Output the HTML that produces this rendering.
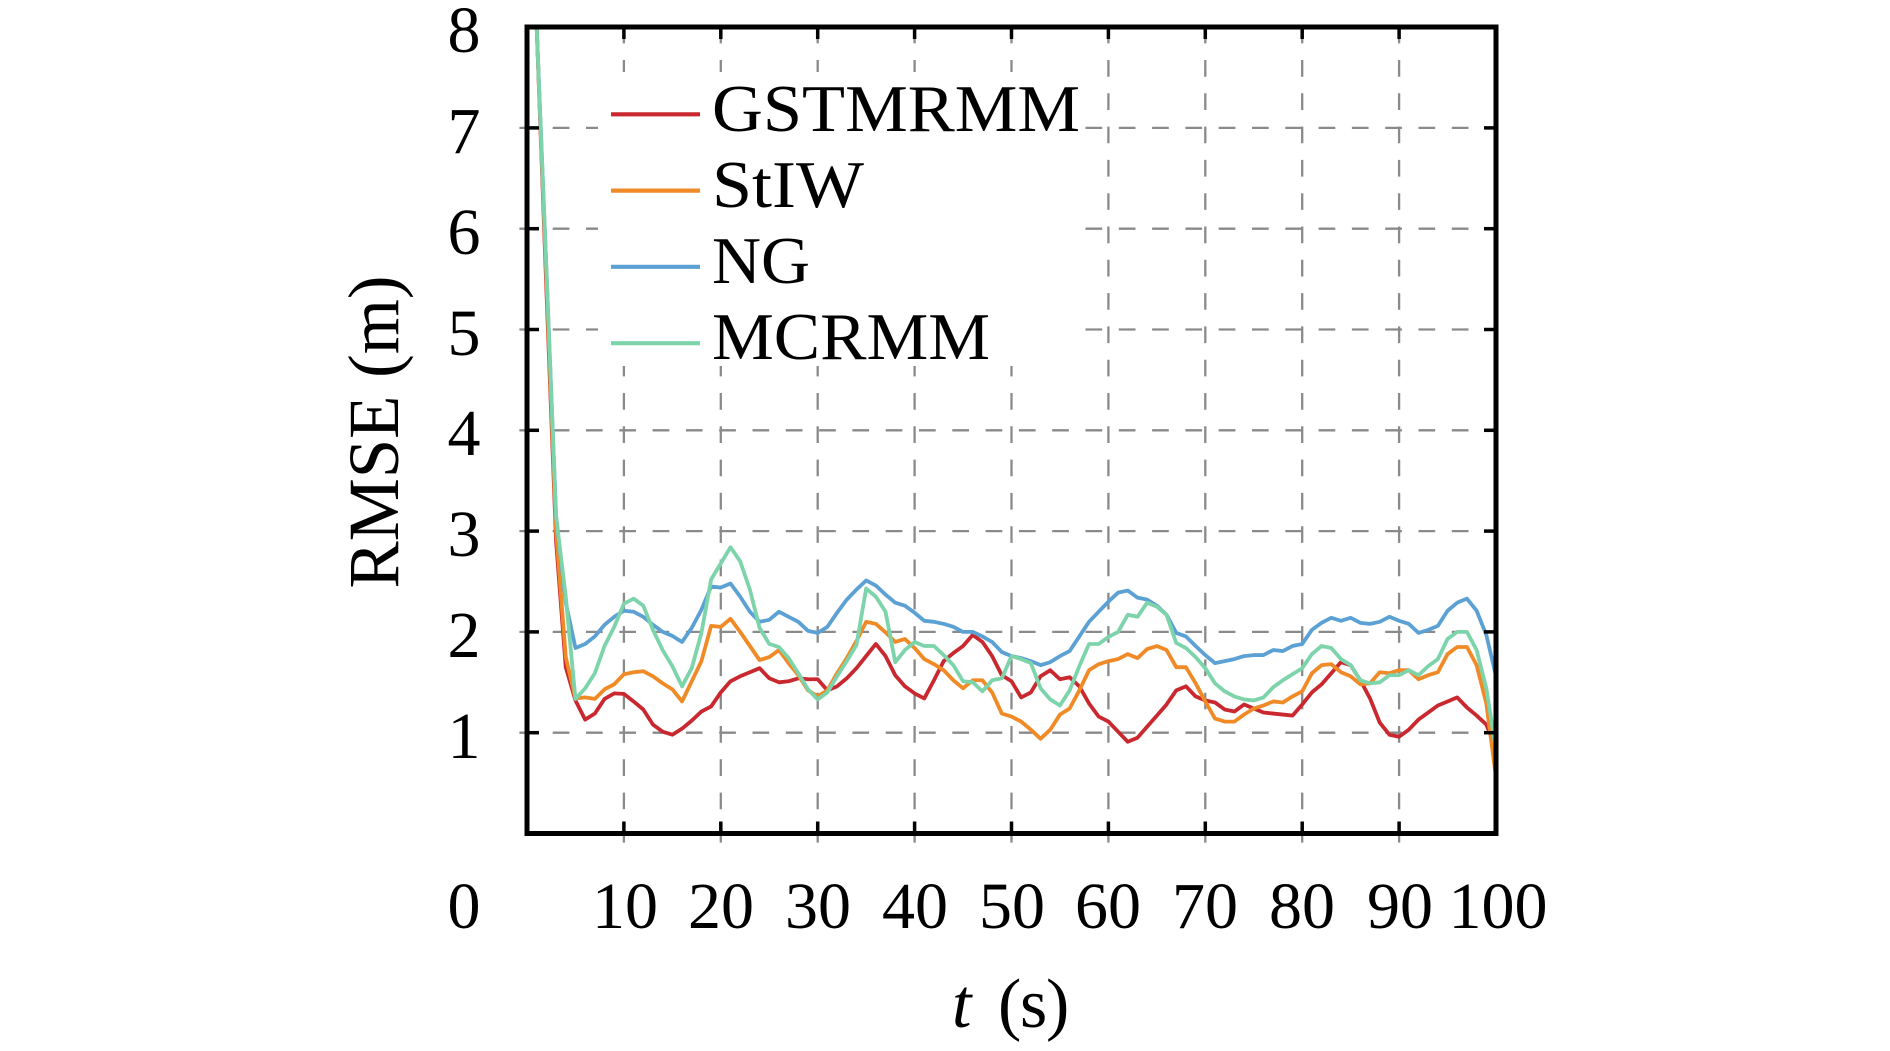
<!DOCTYPE html>
<html>
<head>
<meta charset="utf-8">
<style>
  html, body { margin: 0; padding: 0; background: #ffffff; }
  svg { display: block; }
  text { font-family: "Liberation Serif", "DejaVu Serif", serif; fill: #000; }
</style>
</head>
<body>
<svg width="1890" height="1051" viewBox="0 0 1890 1051" xmlns="http://www.w3.org/2000/svg">
  <rect x="0" y="0" width="1890" height="1051" fill="#ffffff"/>

  <!-- grid -->
  <g stroke="#8a8a8a" stroke-width="2.3" stroke-dasharray="16.7 16.6" fill="none">
    <line x1="519.4" y1="732.7" x2="1496" y2="732.7"/>
    <line x1="519.4" y1="631.9" x2="1496" y2="631.9"/>
    <line x1="519.4" y1="531.1" x2="1496" y2="531.1"/>
    <line x1="519.4" y1="430.3" x2="1496" y2="430.3"/>
    <line x1="519.4" y1="329.5" x2="1496" y2="329.5"/>
    <line x1="519.4" y1="228.7" x2="1496" y2="228.7"/>
    <line x1="519.4" y1="127.9" x2="1496" y2="127.9"/>
    <line x1="623.9" y1="842.6" x2="623.9" y2="27"/>
    <line x1="720.8" y1="842.6" x2="720.8" y2="27"/>
    <line x1="817.7" y1="842.6" x2="817.7" y2="27"/>
    <line x1="914.6" y1="842.6" x2="914.6" y2="27"/>
    <line x1="1011.5" y1="842.6" x2="1011.5" y2="27"/>
    <line x1="1108.4" y1="842.6" x2="1108.4" y2="27"/>
    <line x1="1205.3" y1="842.6" x2="1205.3" y2="27"/>
    <line x1="1302.2" y1="842.6" x2="1302.2" y2="27"/>
    <line x1="1399.1" y1="842.6" x2="1399.1" y2="27"/>
  </g>

  <!-- legend background -->
  <rect x="598" y="72" width="478" height="294" fill="#ffffff"/>

  <defs>
    <clipPath id="plotclip">
      <rect x="0" y="0" width="100" height="8"/>
    </clipPath>
  </defs>

  <!-- data -->
  <g transform="translate(527,833.5) scale(9.69,-100.8)" clip-path="url(#plotclip)" fill="none" stroke-linejoin="round" stroke-linecap="round">
    <polyline vector-effect="non-scaling-stroke" stroke="#c9282f" stroke-width="3.8" points="1,8.0 2,5.4 3,2.9 4,1.65 5,1.32 6,1.13 7,1.19 8,1.335 9,1.39 10,1.385 11,1.31 12,1.23 13,1.08 14,1.01 15,0.98 16,1.04 17,1.12 18,1.21 19,1.26 20,1.40 21,1.51 22,1.56 23,1.60 24,1.64 25,1.54 26,1.50 27,1.51 28,1.54 29,1.53 30,1.53 31,1.42 32,1.46 33,1.54 34,1.64 35,1.76 36,1.88 37,1.76 38,1.57 39,1.46 40,1.39 41,1.34 42,1.52 43,1.71 44,1.79 45,1.86 46,1.97 47,1.90 48,1.76 49,1.57 50,1.51 51,1.35 52,1.40 53,1.56 54,1.62 55,1.53 56,1.55 57,1.46 58,1.29 59,1.16 60,1.11 61,1.01 62,0.91 63,0.95 64,1.06 65,1.17 66,1.28 67,1.42 68,1.46 69,1.36 70,1.32 71,1.30 72,1.23 73,1.21 74,1.28 75,1.24 76,1.20 77,1.19 78,1.18 79,1.17 80,1.28 81,1.40 82,1.48 83,1.59 84,1.70 85,1.67 86,1.52 87,1.34 88,1.10 89,0.98 90,0.96 91,1.03 92,1.13 93,1.20 94,1.27 95,1.31 96,1.35 97,1.25 98,1.17 99,1.08 100,0.85"/>
    <polyline vector-effect="non-scaling-stroke" stroke="#f08a26" stroke-width="3.8" points="1,8.0 2,5.5 3,3.0 4,1.75 5,1.34 6,1.35 7,1.335 8,1.43 9,1.48 10,1.58 11,1.60 12,1.61 13,1.56 14,1.49 15,1.43 16,1.31 17,1.51 18,1.71 19,2.06 20,2.05 21,2.13 22,2.0 23,1.86 24,1.72 25,1.75 26,1.82 27,1.69 28,1.57 29,1.42 30,1.36 31,1.42 32,1.59 33,1.74 34,1.91 35,2.10 36,2.08 37,1.995 38,1.90 39,1.93 40,1.84 41,1.73 42,1.68 43,1.62 44,1.52 45,1.44 46,1.52 47,1.52 48,1.40 49,1.19 50,1.16 51,1.11 52,1.03 53,0.94 54,1.03 55,1.18 56,1.24 57,1.42 58,1.62 59,1.68 60,1.71 61,1.73 62,1.78 63,1.74 64,1.83 65,1.86 66,1.82 67,1.65 68,1.65 69,1.49 70,1.31 71,1.14 72,1.11 73,1.11 74,1.18 75,1.24 76,1.27 77,1.31 78,1.30 79,1.36 80,1.41 81,1.59 82,1.67 83,1.68 84,1.60 85,1.56 86,1.48 87,1.49 88,1.60 89,1.59 90,1.62 91,1.62 92,1.53 93,1.57 94,1.60 95,1.78 96,1.85 97,1.85 98,1.67 99,1.29 100,0.56"/>
    <polyline vector-effect="non-scaling-stroke" stroke="#5ba1d3" stroke-width="3.8" points="1,8.0 2,5.6 3,3.15 4,2.29 5,1.84 6,1.88 7,1.955 8,2.07 9,2.15 10,2.21 11,2.20 12,2.15 13,2.07 14,2.0 15,1.96 16,1.90 17,2.04 18,2.22 19,2.45 20,2.44 21,2.48 22,2.35 23,2.20 24,2.10 25,2.12 26,2.20 27,2.15 28,2.10 29,2.01 30,1.99 31,2.05 32,2.19 33,2.32 34,2.42 35,2.51 36,2.46 37,2.37 38,2.29 39,2.26 40,2.19 41,2.11 42,2.10 43,2.08 44,2.05 45,2.0 46,2.0 47,1.955 48,1.90 49,1.80 50,1.76 51,1.74 52,1.71 53,1.67 54,1.70 55,1.76 56,1.81 57,1.955 58,2.10 59,2.20 60,2.30 61,2.39 62,2.41 63,2.34 64,2.32 65,2.26 66,2.17 67,1.99 68,1.955 69,1.86 70,1.77 71,1.69 72,1.71 73,1.73 74,1.76 75,1.77 76,1.77 77,1.82 78,1.81 79,1.86 80,1.88 81,2.02 82,2.09 83,2.14 84,2.11 85,2.14 86,2.09 87,2.08 88,2.10 89,2.15 90,2.11 91,2.08 92,1.99 93,2.02 94,2.06 95,2.21 96,2.29 97,2.33 98,2.21 99,1.97 100,1.56"/>
    <polyline vector-effect="non-scaling-stroke" stroke="#7dd4ab" stroke-width="3.8" points="1,8.0 2,5.6 3,3.15 4,2.35 5,1.335 6,1.44 7,1.59 8,1.86 9,2.05 10,2.28 11,2.33 12,2.26 13,2.02 14,1.82 15,1.66 16,1.46 17,1.64 18,1.99 19,2.52 20,2.68 21,2.84 22,2.70 23,2.42 24,2.04 25,1.88 26,1.85 27,1.74 28,1.59 29,1.43 30,1.33 31,1.40 32,1.56 33,1.71 34,1.87 35,2.43 36,2.35 37,2.20 38,1.70 39,1.82 40,1.90 41,1.86 42,1.86 43,1.77 44,1.67 45,1.51 46,1.50 47,1.41 48,1.52 49,1.54 50,1.76 51,1.73 52,1.69 53,1.44 54,1.33 55,1.27 56,1.42 57,1.66 58,1.88 59,1.88 60,1.95 61,2.0 62,2.17 63,2.15 64,2.29 65,2.25 66,2.17 67,1.89 68,1.84 69,1.75 70,1.64 71,1.49 72,1.41 73,1.36 74,1.33 75,1.32 76,1.35 77,1.45 78,1.52 79,1.58 80,1.64 81,1.78 82,1.86 83,1.84 84,1.73 85,1.67 86,1.52 87,1.49 88,1.50 89,1.57 90,1.57 91,1.62 92,1.57 93,1.66 94,1.73 95,1.93 96,2.0 97,2.0 98,1.82 99,1.44 100,0.83"/>
  </g>

  <!-- ticks -->
  <g stroke="#000" stroke-width="3.5">
    <line x1="527" y1="732.7" x2="539" y2="732.7"/>
    <line x1="527" y1="631.9" x2="539" y2="631.9"/>
    <line x1="527" y1="531.1" x2="539" y2="531.1"/>
    <line x1="527" y1="430.3" x2="539" y2="430.3"/>
    <line x1="527" y1="329.5" x2="539" y2="329.5"/>
    <line x1="527" y1="228.7" x2="539" y2="228.7"/>
    <line x1="527" y1="127.9" x2="539" y2="127.9"/>
    <line x1="1484" y1="732.7" x2="1496" y2="732.7"/>
    <line x1="1484" y1="631.9" x2="1496" y2="631.9"/>
    <line x1="1484" y1="531.1" x2="1496" y2="531.1"/>
    <line x1="1484" y1="430.3" x2="1496" y2="430.3"/>
    <line x1="1484" y1="329.5" x2="1496" y2="329.5"/>
    <line x1="1484" y1="228.7" x2="1496" y2="228.7"/>
    <line x1="1484" y1="127.9" x2="1496" y2="127.9"/>
    <line x1="623.9" y1="833.5" x2="623.9" y2="821.5"/>
    <line x1="720.8" y1="833.5" x2="720.8" y2="821.5"/>
    <line x1="817.7" y1="833.5" x2="817.7" y2="821.5"/>
    <line x1="914.6" y1="833.5" x2="914.6" y2="821.5"/>
    <line x1="1011.5" y1="833.5" x2="1011.5" y2="821.5"/>
    <line x1="1108.4" y1="833.5" x2="1108.4" y2="821.5"/>
    <line x1="1205.3" y1="833.5" x2="1205.3" y2="821.5"/>
    <line x1="1302.2" y1="833.5" x2="1302.2" y2="821.5"/>
    <line x1="1399.1" y1="833.5" x2="1399.1" y2="821.5"/>
    <line x1="623.9" y1="27" x2="623.9" y2="39"/>
    <line x1="720.8" y1="27" x2="720.8" y2="39"/>
    <line x1="817.7" y1="27" x2="817.7" y2="39"/>
    <line x1="914.6" y1="27" x2="914.6" y2="39"/>
    <line x1="1011.5" y1="27" x2="1011.5" y2="39"/>
    <line x1="1108.4" y1="27" x2="1108.4" y2="39"/>
    <line x1="1205.3" y1="27" x2="1205.3" y2="39"/>
    <line x1="1302.2" y1="27" x2="1302.2" y2="39"/>
    <line x1="1399.1" y1="27" x2="1399.1" y2="39"/>
  </g>

  <!-- axis border -->
  <rect x="527" y="27" width="969" height="806.5" fill="none" stroke="#000" stroke-width="5"/>

  <!-- y tick labels -->
  <g font-size="66" text-anchor="middle">
    <text x="464" y="52">8</text>
    <text x="464" y="153">7</text>
    <text x="464" y="254">6</text>
    <text x="464" y="355">5</text>
    <text x="464" y="455">4</text>
    <text x="464" y="556">3</text>
    <text x="464" y="657">2</text>
    <text x="464" y="758">1</text>
    <text x="464" y="928">0</text>
  </g>

  <!-- x tick labels -->
  <g font-size="66" text-anchor="middle">
    <text x="625" y="928">10</text>
    <text x="721" y="928">20</text>
    <text x="818" y="928">30</text>
    <text x="915" y="928">40</text>
    <text x="1012" y="928">50</text>
    <text x="1108" y="928">60</text>
    <text x="1205" y="928">70</text>
    <text x="1302" y="928">80</text>
    <text x="1400" y="928">90</text>
    <text x="1498" y="928">100</text>
  </g>

  <!-- legend -->
  <g stroke-width="4.2">
    <line x1="611" y1="114.3" x2="700" y2="114.3" stroke="#c9282f"/>
    <line x1="611" y1="190.6" x2="700" y2="190.6" stroke="#f08a26"/>
    <line x1="611" y1="266.8" x2="700" y2="266.8" stroke="#5ba1d3"/>
    <line x1="611" y1="343.2" x2="700" y2="343.2" stroke="#7dd4ab"/>
  </g>
  <g font-size="67">
    <text x="712" y="131" textLength="368" lengthAdjust="spacingAndGlyphs">GSTMRMM</text>
    <text x="712" y="207" textLength="152" lengthAdjust="spacingAndGlyphs">StIW</text>
    <text x="712" y="283" textLength="98" lengthAdjust="spacingAndGlyphs">NG</text>
    <text x="712" y="359" textLength="278" lengthAdjust="spacingAndGlyphs">MCRMM</text>
  </g>

  <!-- axis labels -->
  <text transform="translate(398,432) rotate(-90)" text-anchor="middle" font-size="72" textLength="313" lengthAdjust="spacingAndGlyphs">RMSE (m)</text>
  <text y="1027" font-size="70"><tspan x="952" font-style="italic">t</tspan><tspan x="998">(</tspan><tspan x="1020">s</tspan><tspan x="1046">)</tspan></text>
</svg>
</body>
</html>
